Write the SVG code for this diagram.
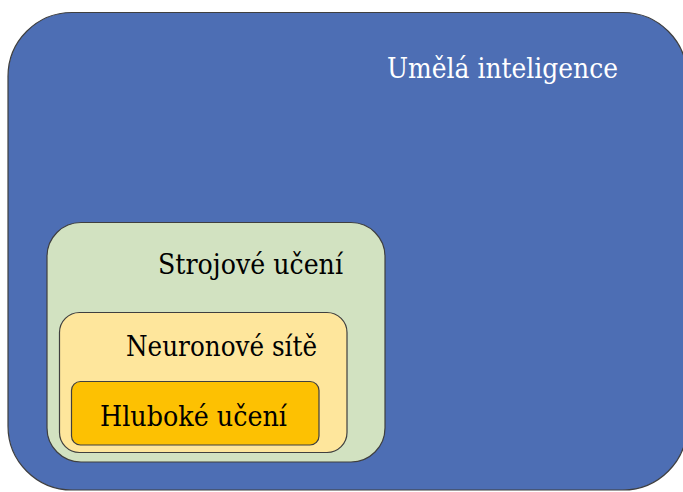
<svg xmlns="http://www.w3.org/2000/svg" width="683" height="492" viewBox="0 0 683 492">
<style>
.box{stroke:#3f3f3f;stroke-width:1.2}
text{font-family:'DejaVu Serif','Liberation Serif',serif;font-size:27px;fill:#000}
</style>
<rect width="683" height="492" fill="#ffffff"/>
<g id="ai">
<rect class="box" x="8" y="12.5" width="679" height="477.5" rx="64" ry="64" fill="#4D6EB4"/>
<text x="387" y="78" style="fill:#ffffff" textLength="231" lengthAdjust="spacingAndGlyphs">Umělá inteligence</text>
</g>
<g id="ml">
<rect class="box" x="47" y="222.5" width="338" height="239.5" rx="34" ry="34" fill="#D2E2C1"/>
<text x="158" y="274" textLength="185" lengthAdjust="spacingAndGlyphs">Strojové učení</text>
</g>
<g id="nn">
<rect class="box" x="59.5" y="312.5" width="287.5" height="140" rx="20" ry="20" fill="#FEE69C"/>
<text x="126" y="356" textLength="191" lengthAdjust="spacingAndGlyphs">Neuronové sítě</text>
</g>
<g id="dl">
<rect class="box" x="71.5" y="381.5" width="247.5" height="63.5" rx="9" ry="9" fill="#FDC102"/>
<text x="100" y="426" textLength="187" lengthAdjust="spacingAndGlyphs">Hluboké učení</text>
</g>
<g id="connectors"/>
</svg>
